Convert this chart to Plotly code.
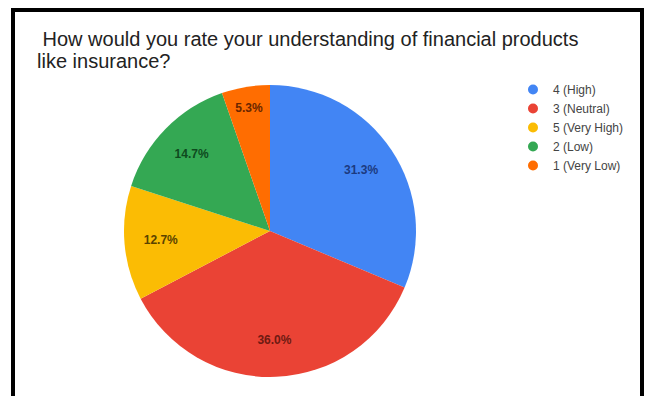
import plotly.graph_objects as go

# Survey responses (150 respondents)
categories = ["4 (High)", "3 (Neutral)", "5 (Very High)", "2 (Low)", "1 (Very Low)"]
counts = [47, 54, 19, 22, 8]
slice_colors = ["#4285F4", "#EA4335", "#FBBC04", "#34A853", "#FF6D01"]
label_colors = ["#1c3a80", "#6e1a12", "#5a4300", "#0e4a1e", "#6a2600"]
title_lines = [" How would you rate your understanding of financial products",
               "like insurance?"]

W, H = 647, 396
FONT = "Arial, Liberation Sans, sans-serif"
pie_domain = dict(x=[124 / W, 416 / W], y=[1 - 377 / H, 1 - 85 / H])

fig = go.Figure()

# Solid pie
fig.add_trace(go.Pie(
    labels=categories,
    values=counts,
    sort=False,
    direction="clockwise",
    rotation=0,
    marker=dict(colors=slice_colors, line=dict(width=0)),
    textinfo="none",
    domain=pie_domain,
    showlegend=False,
    hoverinfo="label+percent",
))

# Percentage labels set on an outer ring so they sit toward the rim
fig.add_trace(go.Pie(
    labels=categories,
    values=counts,
    sort=False,
    direction="clockwise",
    rotation=0,
    hole=0.5,
    marker=dict(colors=["rgba(0,0,0,0)"] * len(categories), line=dict(width=0)),
    texttemplate="<b>%{percent:.1%}</b>",
    textposition="inside",
    insidetextorientation="horizontal",
    textfont=dict(family=FONT, size=12, color=label_colors),
    domain=pie_domain,
    showlegend=False,
    hoverinfo="skip",
))

# Legend entries drawn with round markers
for name, col in zip(categories, slice_colors):
    fig.add_trace(go.Scatter(
        x=[None], y=[None], mode="markers", name=name,
        marker=dict(symbol="circle", size=10, color=col),
        showlegend=True, hoverinfo="skip",
    ))

annotations = [
    dict(text=title_lines[0], xref="paper", yref="paper",
         x=35 / W, xanchor="left", y=1 - 39 / H, yanchor="middle",
         showarrow=False, font=dict(family=FONT, size=20, color="#222222")),
    dict(text=title_lines[1], xref="paper", yref="paper",
         x=35 / W, xanchor="left", y=1 - 61 / H, yanchor="middle",
         showarrow=False, font=dict(family=FONT, size=20, color="#222222")),
]

fig.update_layout(
    width=W, height=H,
    margin=dict(l=0, r=0, t=0, b=0),
    paper_bgcolor="white",
    plot_bgcolor="white",
    xaxis=dict(visible=False),
    yaxis=dict(visible=False),
    annotations=annotations,
    legend=dict(
        x=513 / W, xanchor="left",
        y=1 - 75 / H, yanchor="top",
        font=dict(family=FONT, size=12, color="#444444"),
        bgcolor="rgba(0,0,0,0)",
        itemwidth=30,
        tracegroupgap=0,
    ),
    shapes=[
        dict(type="line", xref="paper", yref="paper",
             x0=13 / W, x1=13 / W, y0=-0.05, y1=1 - 8 / H,
             line=dict(color="black", width=4)),
        dict(type="line", xref="paper", yref="paper",
             x0=11 / W, x1=644 / W, y0=1 - 10 / H, y1=1 - 10 / H,
             line=dict(color="black", width=4)),
        dict(type="line", xref="paper", yref="paper",
             x0=642 / W, x1=642 / W, y0=-0.05, y1=1 - 8 / H,
             line=dict(color="black", width=4)),
    ],
)

fig.write_html("out.html")
